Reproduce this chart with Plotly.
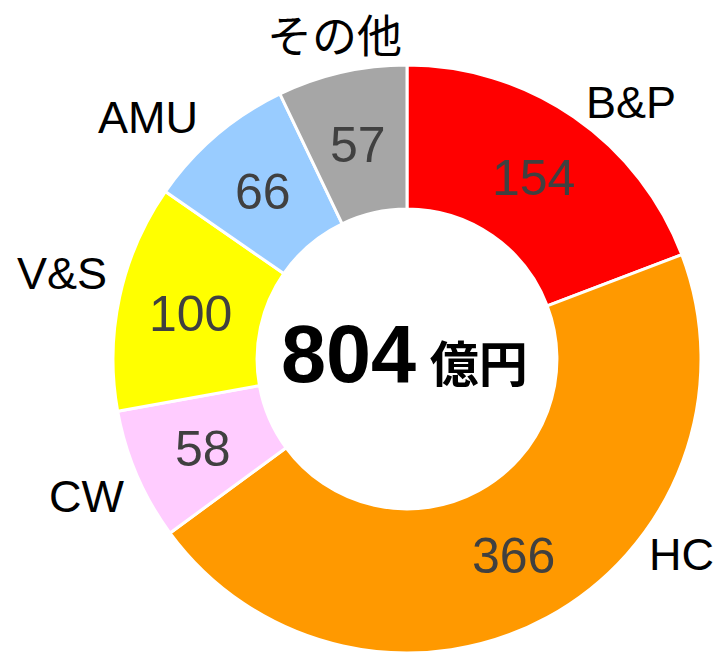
import math
import plotly.graph_objects as go

categories = ["B&P", "HC", "CW", "V&S", "AMU", "その他"]
values = [154, 366, 58, 100, 66, 57]
colors = ["#FF0000", "#FF9900", "#FFCCFF", "#FFFF00", "#99CCFF", "#A6A6A6"]
total_label = "804"
unit_label = "億円"

# label anchor positions (pixels) for category names
label_pos = {
    "B&P": (631, 102),
    "HC": (681, 554),
    "CW": (86, 496),
    "V&S": (62, 273),
    "AMU": (148, 117),
    "その他": (334, 38),
}

W, H = 720, 653
cx, cy, R = 407, 359, 294
HOLE = 0.51

fig = go.Figure()
fig.add_trace(go.Pie(
    labels=categories,
    values=values,
    sort=False,
    direction="clockwise",
    rotation=0,
    hole=HOLE,
    marker=dict(colors=colors, line=dict(color="white", width=3)),
    textinfo="none",
    domain=dict(x=[(cx - R - 3) / W, (cx + R + 3) / W], y=[0, (H - cy + R) / H]),
    showlegend=False,
    hoverinfo="label+value",
))

annotations = []
# value labels at the middle of each ring segment (derived from the data)
total = sum(values)
rmid = R * (1 + HOLE) / 2
cum = 0
for v in values:
    theta = 2 * math.pi * (cum + v / 2) / total
    cum += v
    px = cx + rmid * math.sin(theta)
    py = cy - rmid * math.cos(theta) + 2
    annotations.append(dict(
        x=px / W, y=1 - py / H, xref="paper", yref="paper",
        text=str(v), showarrow=False, xanchor="center", yanchor="middle",
        font=dict(family="Liberation Sans, Arial, sans-serif", size=50, color="#404040"),
    ))

for cat in categories:
    x, y = label_pos[cat]
    annotations.append(dict(
        x=x / W, y=1 - y / H, xref="paper", yref="paper",
        text=cat, showarrow=False, xanchor="center", yanchor="middle",
        font=dict(family="Liberation Sans, Noto Sans CJK JP, Arial, sans-serif", size=45, color="black"),
    ))

annotations.append(dict(
    x=(cx - 3) / W, y=1 - (cy - 5) / H, xref="paper", yref="paper",
    text=f"<b>{total_label}</b><b><span style='font-size:49px'>&nbsp;{unit_label}</span></b>",
    showarrow=False, xanchor="center", yanchor="middle",
    font=dict(family="Liberation Sans, Noto Sans CJK JP, Arial, sans-serif", size=81, color="black"),
))

fig.update_layout(
    width=W, height=H,
    margin=dict(l=0, r=0, t=0, b=0),
    paper_bgcolor="white",
    plot_bgcolor="white",
    annotations=annotations,
)

fig.write_html(
    "out.html",
    config={"displayModeBar": False},
    post_script="document.body.style.margin='0';document.body.style.overflow='hidden';",
)
